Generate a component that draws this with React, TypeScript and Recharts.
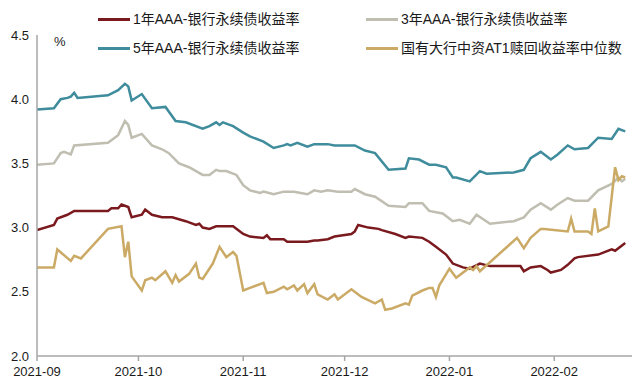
import React from 'react';
import { LineChart, Line, XAxis, YAxis } from 'recharts';

// x = day offset from 2021-09-01
const monthTicks = [0, 30, 61, 91, 122, 153];
const monthLabels = ['2021-09', '2021-10', '2021-11', '2021-12', '2022-01', '2022-02'];
const yTicks = [2.0, 2.5, 3.0, 3.5, 4.0, 4.5];

const seriesNames = [
  '1年AAA-银行永续债收益率',
  '3年AAA-银行永续债收益率',
  '5年AAA-银行永续债收益率',
  '国有大行中资AT1赎回收益率中位数',
];

const oneYear: [number, number][] = [
  [0, 2.98], [5, 3.02], [6, 3.07], [9, 3.10], [11, 3.13], [21, 3.13], [22, 3.15], [24, 3.15],
  [25, 3.18], [27, 3.16], [28, 3.08], [31, 3.10], [32, 3.14], [34, 3.10], [37, 3.08], [40, 3.08],
  [44, 3.05], [47, 3.02], [48, 3.03], [49, 3.00], [51, 2.99], [53, 3.01], [58, 3.01], [61, 2.95],
  [63, 2.93], [67, 2.92], [68, 2.94], [69, 2.91], [73, 2.91], [74, 2.89], [80, 2.89], [82, 2.90],
  [83, 2.90], [86, 2.91], [88, 2.93], [93, 2.95], [94, 2.97], [95, 3.02], [98, 3.00], [101, 2.99],
  [102, 2.98], [106, 2.95], [109, 2.92], [110, 2.93], [114, 2.92], [116, 2.89], [118, 2.85],
  [121, 2.79], [123, 2.72], [126, 2.69], [128, 2.68], [131, 2.72], [134, 2.70], [143, 2.70],
  [144, 2.66], [146, 2.69], [149, 2.70], [151, 2.67], [152, 2.65], [155, 2.67], [157, 2.71],
  [159, 2.76], [160, 2.77], [166, 2.79], [170, 2.83], [171, 2.82], [174, 2.88],
];

const threeYear: [number, number][] = [
  [0, 3.49], [5, 3.50], [7, 3.58], [8, 3.59], [10, 3.57], [11, 3.64], [21, 3.66], [24, 3.72],
  [26, 3.83], [27, 3.80], [28, 3.70], [31, 3.73], [34, 3.64], [37, 3.61], [39, 3.58], [42, 3.50],
  [45, 3.47], [49, 3.41], [51, 3.41], [53, 3.45], [54, 3.44], [56, 3.44], [59, 3.41], [61, 3.33],
  [63, 3.29], [66, 3.27], [67, 3.28], [70, 3.26], [73, 3.28], [76, 3.28], [80, 3.26], [82, 3.29],
  [84, 3.28], [86, 3.29], [89, 3.28], [93, 3.28], [94, 3.30], [97, 3.26], [100, 3.24], [104, 3.17],
  [109, 3.16], [110, 3.19], [114, 3.19], [116, 3.13], [120, 3.11], [123, 3.05], [125, 3.06],
  [128, 3.03], [130, 3.10], [134, 3.03], [141, 3.05], [144, 3.08], [146, 3.14], [149, 3.19],
  [152, 3.14], [154, 3.18], [157, 3.23], [159, 3.21], [163, 3.21], [166, 3.29], [170, 3.34],
  [172, 3.39], [173, 3.36], [174, 3.38],
];

const fiveYear: [number, number][] = [
  [0, 3.92], [5, 3.93], [7, 4.00], [9, 4.01], [10, 4.02], [11, 4.05], [12, 4.01], [21, 4.03],
  [24, 4.07], [26, 4.12], [27, 4.10], [28, 3.99], [31, 4.04], [34, 3.93], [38, 3.94], [41, 3.83],
  [44, 3.82], [49, 3.77], [51, 3.79], [53, 3.82], [54, 3.80], [55, 3.82], [58, 3.79], [61, 3.74],
  [63, 3.71], [67, 3.67], [70, 3.62], [73, 3.64], [74, 3.65], [75, 3.64], [77, 3.66], [80, 3.63],
  [82, 3.65], [86, 3.65], [88, 3.64], [93, 3.64], [94, 3.64], [97, 3.60], [100, 3.58], [104, 3.45],
  [109, 3.46], [110, 3.54], [113, 3.53], [116, 3.49], [118, 3.49], [121, 3.47], [123, 3.39],
  [124, 3.39], [128, 3.36], [131, 3.44], [133, 3.42], [141, 3.43], [144, 3.45], [146, 3.54],
  [149, 3.59], [152, 3.53], [154, 3.57], [157, 3.64], [159, 3.61], [163, 3.62], [166, 3.70],
  [170, 3.69], [172, 3.77], [174, 3.75],
];

const at1Median: [number, number][] = [
  [0, 2.69], [5, 2.69], [6, 2.83], [10, 2.74], [11, 2.78], [13, 2.76], [21, 2.99], [25, 3.01],
  [26, 2.77], [27, 2.89], [28, 2.62], [31, 2.51], [32, 2.59], [34, 2.61], [35, 2.59], [38, 2.66],
  [40, 2.57], [41, 2.63], [42, 2.58], [45, 2.64], [47, 2.72], [48, 2.61], [49, 2.60], [52, 2.72],
  [54, 2.85], [56, 2.77], [58, 2.81], [59, 2.78], [61, 2.51], [63, 2.53], [67, 2.57], [68, 2.49],
  [70, 2.50], [73, 2.54], [74, 2.52], [76, 2.55], [77, 2.51], [79, 2.56], [80, 2.49], [82, 2.56],
  [83, 2.48], [86, 2.44], [88, 2.48], [89, 2.44], [93, 2.52], [96, 2.46], [100, 2.41], [102, 2.44],
  [103, 2.36], [105, 2.37], [109, 2.41], [110, 2.40], [111, 2.47], [114, 2.51], [116, 2.53],
  [117, 2.53], [118, 2.46], [119, 2.55], [122, 2.68], [124, 2.61], [128, 2.69], [129, 2.67],
  [130, 2.70], [131, 2.66], [142, 2.92], [144, 2.84], [146, 2.92], [149, 2.99], [150, 2.99],
  [157, 2.97], [158, 3.07], [159, 2.97], [163, 2.97], [164, 2.95], [165, 3.15], [166, 2.97],
  [169, 3.01], [171, 3.47], [172, 3.37], [173, 3.40], [174, 3.39],
];

const colors = ['#7B1A1E', '#BFBEB1', '#3E8C9C', '#CBAA66'];
const allSeries = [oneYear, threeYear, fiveYear, at1Median];

const toRows = (pts: [number, number][]) => pts.map(([d, v]) => ({ d, v }));

const FONT = "Arial, 'Liberation Sans', 'Noto Sans CJK SC', sans-serif";

export default function App() {
  const legendPos = [
    { left: 98, top: 11 },
    { left: 366, top: 11 },
    { left: 98, top: 40 },
    { left: 366, top: 40 },
  ];
  return (
    <div style={{ position: 'absolute', left: 0, top: 0, width: 640, height: 391, background: '#fff', fontFamily: FONT }}>
      <LineChart width={640} height={391} margin={{ top: 35, right: 8, left: 0, bottom: 0 }}>
        <XAxis
          type="number"
          dataKey="d"
          domain={[0, 176]}
          ticks={monthTicks}
          tickFormatter={(v: number) => monthLabels[monthTicks.indexOf(v)] ?? ''}
          height={35}
          stroke="#A6A6A6"
          strokeWidth={1.5}
          tickSize={5}
          tickMargin={6}
          tick={{ fill: '#1a1a1a', fontSize: 13, fontFamily: FONT }}
          allowDataOverflow
        />
        <YAxis
          type="number"
          dataKey="v"
          domain={[2, 4.5]}
          ticks={yTicks}
          width={37}
          tickFormatter={(v: number) => v.toFixed(1)}
          stroke="#A6A6A6"
          strokeWidth={1.5}
          tickLine={false}
          tick={{ fill: '#1a1a1a', fontSize: 13, fontFamily: FONT }}
          allowDataOverflow
        />
        {allSeries.map((s, i) => (
          <Line
            key={seriesNames[i]}
            data={toRows(s)}
            dataKey="v"
            name={seriesNames[i]}
            stroke={colors[i]}
            strokeWidth={2.5}
            dot={false}
            activeDot={false}
            type="linear"
            isAnimationActive={false}
          />
        ))}
      </LineChart>
      <div style={{ position: 'absolute', left: 54, top: 34, fontSize: 13, color: '#1a1a1a' }}>%</div>
      {seriesNames.map((name, i) => (
        <div
          key={name}
          style={{
            position: 'absolute',
            left: legendPos[i].left,
            top: legendPos[i].top,
            display: 'flex',
            alignItems: 'center',
            whiteSpace: 'nowrap',
            fontSize: 14,
            color: '#1a1a1a',
            lineHeight: '16px',
          }}
        >
          <span style={{ display: 'inline-block', width: 32, height: 3, background: colors[i], marginRight: 3 }} />
          <span>{name}</span>
        </div>
      ))}
    </div>
  );
}
